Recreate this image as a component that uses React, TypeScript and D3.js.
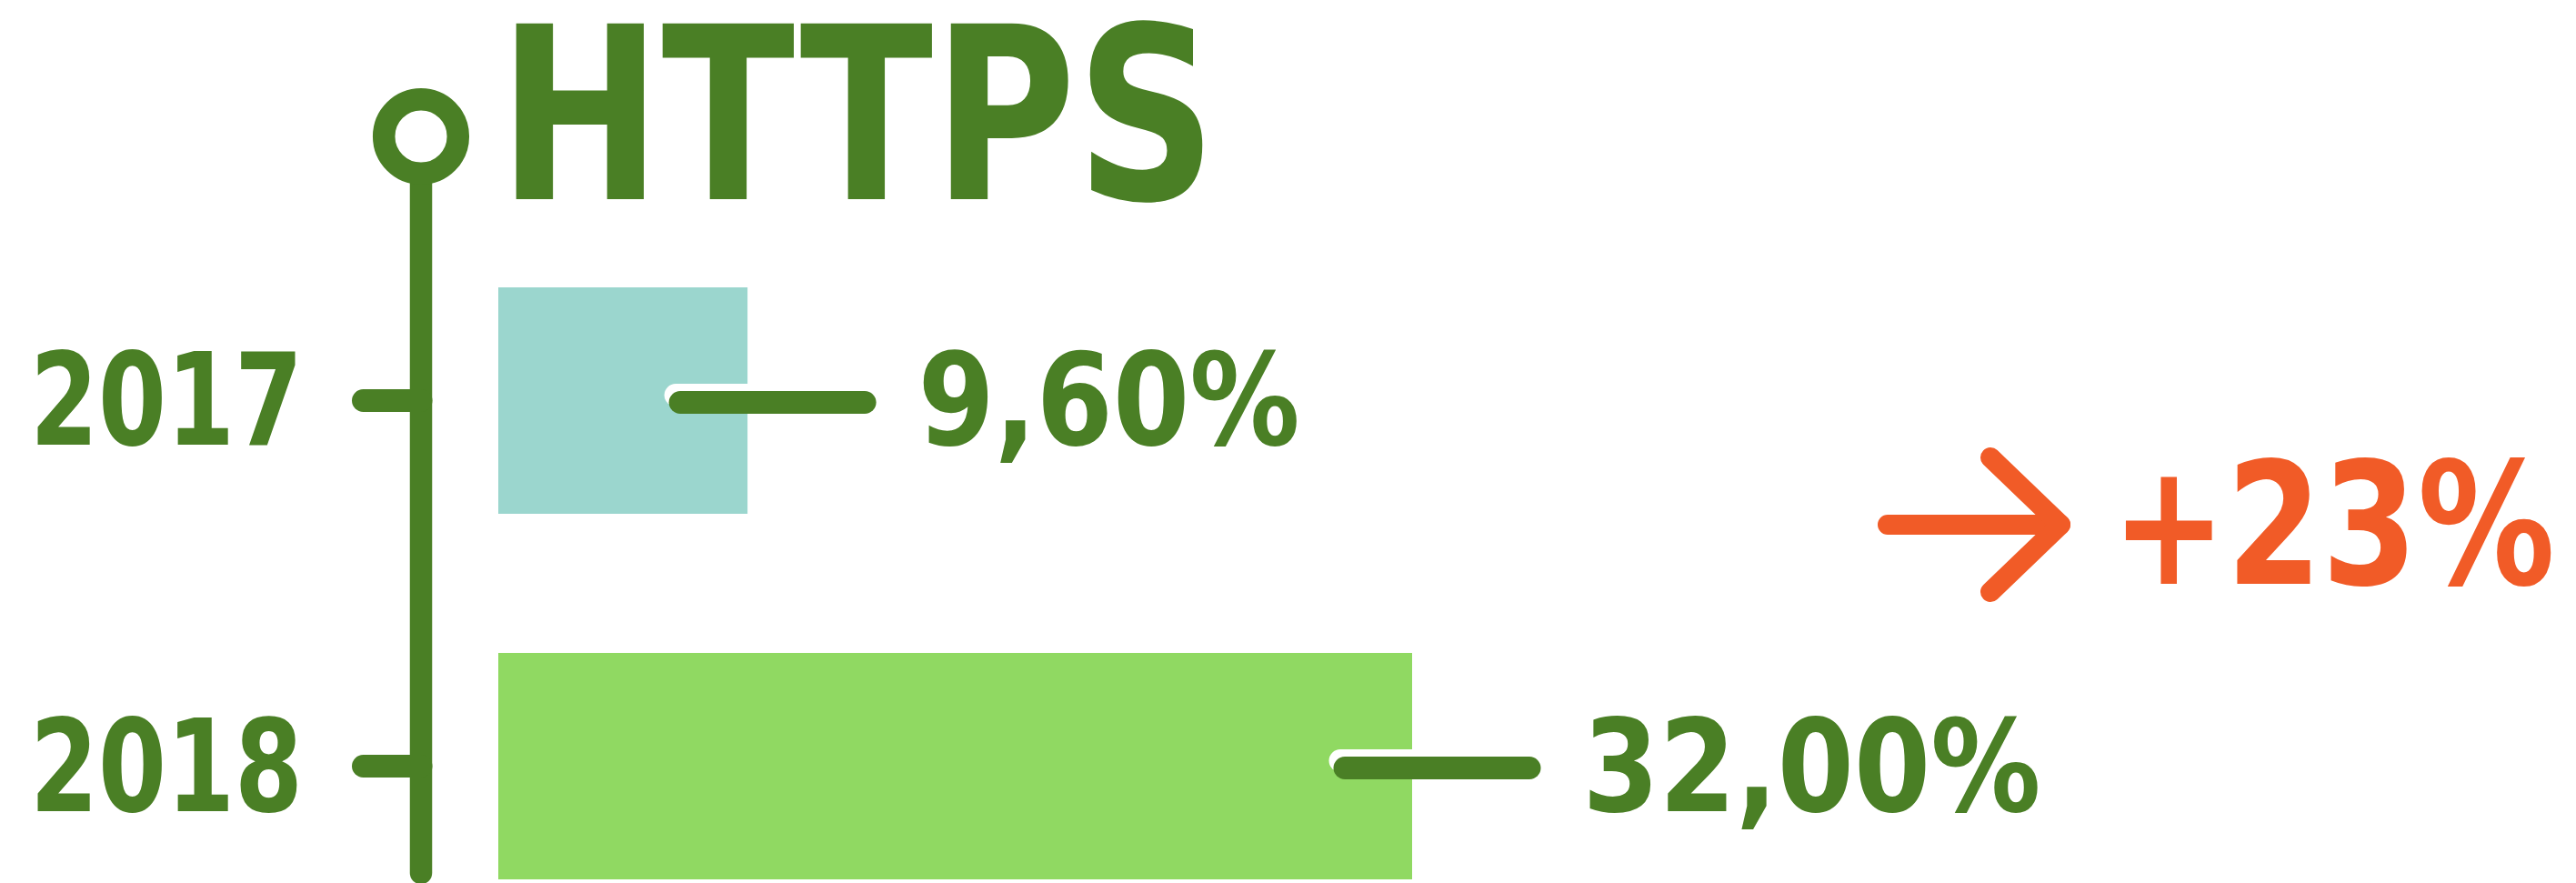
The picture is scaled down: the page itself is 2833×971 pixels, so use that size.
import React, { useLayoutEffect, useRef, useState } from "react";
import * as d3 from "d3";

const title = "HTTPS";
const years = ["2017", "2018"];
const shares = [9.6, 32.0];
const barColors = ["#9BD6CE", "#90D962"];
const changeLabel = "+23%";

const W = 2833;
const H = 971;
const GREEN = "#4A7F25";
const ORANGE = "#F15B27";
const FONT = "'DejaVu Sans Condensed', 'DejaVu Sans', sans-serif";

function FitText(props: { x: number; y: number; width: number; size: number; fill: string; children: string }) {
  const { x, y, width, size, fill, children } = props;
  const ref = useRef<SVGTextElement>(null);
  const [k, setK] = useState(1);
  useLayoutEffect(() => {
    const el = ref.current;
    if (!el) return;
    const n = el.getComputedTextLength();
    if (n > 0) setK(width / n);
  }, [width, children, size]);
  return (
    <text
      ref={ref}
      transform={`translate(${x},${y}) scale(${k},1)`}
      fontFamily={FONT}
      fontWeight="bold"
      fontSize={size}
      fill={fill}
    >
      {children}
    </text>
  );
}

export default function App() {
  const y = d3.scaleBand<string>().domain(years).range([316, 967]).paddingInner(0.3806).paddingOuter(0);
  const x = d3.scaleLinear().domain([1.2, 32]).range([548, 1553]);
  const fmt = (v: number) => `${d3.format(".2f")(v).replace(".", ",")}%`;
  const axisX = 463;
  const bw = y.bandwidth();

  return (
    <div>
      <style>{"body{margin:0;background:#fff}"}</style>
      <svg width={W} height={H} style={{ display: "block" }}>
        <rect x={0} y={0} width={W} height={H} fill="#fff" />
        {/* title */}
        <FitText x={548} y={219} width={790} size={265} fill={GREEN}>
          {title}
        </FitText>
        {/* vertical timeline */}
        <line x1={axisX} x2={axisX} y1={150} y2={960} stroke={GREEN} strokeWidth={24.5} strokeLinecap="round" />
        <circle cx={axisX} cy={150} r={40.8} fill="#fff" stroke={GREEN} strokeWidth={24.5} />

        {years.map((yr, i) => {
          const y0 = y(yr) as number;
          const cy = y0 + bw / 2;
          const xe = x(shares[i]);
          const c0 = xe - 74;
          const c1 = xe + 129;
          const label = fmt(shares[i]);
          return (
            <g key={yr}>
              {/* year label */}
              <FitText x={33} y={cy + 49} width={yr.length * 75} size={140} fill={GREEN}>
                {yr}
              </FitText>
              {/* tick */}
              <line x1={399.5} x2={axisX} y1={cy} y2={cy} stroke={GREEN} strokeWidth={25} strokeLinecap="round" />
              {/* bar */}
              <rect x={x.range()[0]} y={y0} width={xe - x.range()[0]} height={bw} fill={barColors[i]} />
              {/* connector with white shadow */}
              <line x1={c0 - 5} x2={c1 - 5} y1={cy + 2 - 8} y2={cy + 2 - 8} stroke="#fff" strokeWidth={25} strokeLinecap="round" />
              <line x1={c0} x2={c1} y1={cy + 2} y2={cy + 2} stroke={GREEN} strokeWidth={25} strokeLinecap="round" />
              {/* value label */}
              <FitText x={c1 + 12.5 + 46} y={cy + 49} width={label.length * 84} size={140} fill={GREEN}>
                {label}
              </FitText>
            </g>
          );
        })}

        {/* change arrow */}
        <g stroke={ORANGE} strokeWidth={22} strokeLinecap="round" strokeLinejoin="round" fill="none">
          <line x1={2076} x2={2266} y1={577} y2={577} />
          <polyline points="2189,503 2266,577 2189,651" />
        </g>
        <FitText x={2322} y={642} width={488} size={188} fill={ORANGE}>
          {changeLabel}
        </FitText>
      </svg>
    </div>
  );
}
